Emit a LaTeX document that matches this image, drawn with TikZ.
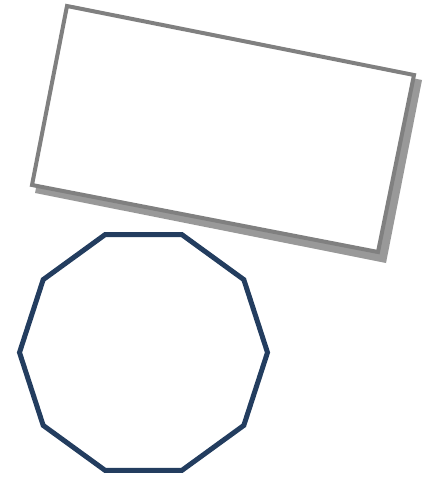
\documentclass[tikz,border=0pt]{standalone}
\definecolor{frameGray}{RGB}{128,128,128}
\definecolor{shadowGray}{RGB}{153,153,153}
\definecolor{decaBlue}{RGB}{35,61,95}
\tikzset{
  framebox/.style={draw=frameGray, fill=white, line width=4pt, line join=miter},
  shadowbox/.style={fill=shadowGray},
  decagonline/.style={draw=decaBlue, line width=5pt, line join=miter}
}
\begin{document}
\begin{tikzpicture}[x=1pt,y=-1pt]
\useasboundingbox (0,0) rectangle (432,478);
% shadow
\fill[shadowbox] (73,11) -- (422,80) -- (386,263) -- (35,193) -- cycle;
% main rectangle
\draw[framebox] (67,6) -- (414,75) -- (378,252) -- (32,185) -- cycle;
% decagon
\draw[decagonline] plot[samples at={0,36,...,324}] ({143.5+124*cos(\x)},{352.5+124*sin(\x)}) -- cycle;
\end{tikzpicture}
\end{document}
